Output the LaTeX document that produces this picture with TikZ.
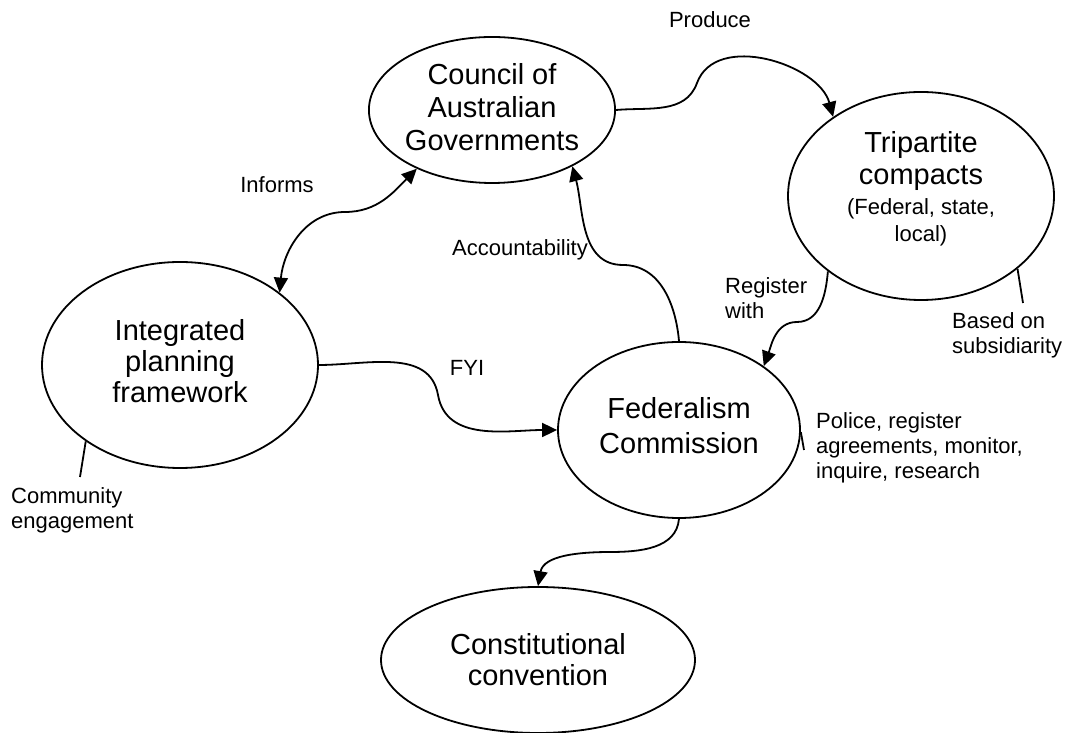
\documentclass[tikz,border=0pt]{standalone}
\usepackage{fontspec}
\setmainfont{Liberation Sans}
\usepackage{tikz}
\usetikzlibrary{shapes.geometric,arrows.meta}
\newcommand\bigfont{\fontsize{29}{32}\selectfont}
\newcommand\smallfont{\fontsize{22}{25}\selectfont}
\tikzstyle{bubble}=[ellipse,draw=black,fill=white,line width=1.8pt,
                    font=\bigfont,align=center,inner sep=0pt]
\tikzstyle{conn}=[line width=1.8pt,-{Triangle[length=15pt,width=14pt]}]
\tikzstyle{stub}=[line width=1.8pt]
\tikzstyle{note}=[font=\smallfont,align=left,inner sep=2pt]
\tikzstyle{tag}=[font=\smallfont,align=center,inner sep=0pt]

\begin{document}
\begin{tikzpicture}[x=1pt,y=1pt]
    \useasboundingbox (0,0) rectangle (1068,733);
    % the five bubbles
    \node [bubble,minimum width=220pt,minimum height=146pt,text depth=5pt] (coag) at (492,623)
        {Council of\\[1pt]Australian\\[1pt]Governments};
    \node [bubble,minimum width=266pt,minimum height=208pt,text depth=18pt] (tri) at (921,537)
        {Tripartite\\compacts\\[-2pt]\smallfont (Federal, state,\\[-5pt]\smallfont local)};
    \node [bubble,minimum width=276pt,minimum height=206pt,text depth=9pt] (ipf) at (180,368)
        {Integrated\\[-1pt]planning\\[-1pt]framework};
    \node [bubble,minimum width=242pt,minimum height=176pt,text depth=10pt] (fed) at (679,303)
        {Federalism\\[3pt]Commission};
    \node [bubble,minimum width=314pt,minimum height=146pt] (conv) at (538,73)
        {Constitutional\\[-1pt]convention};
    % side notes
    \node [note,anchor=west] (subs) at (950,398) {Based on\\subsidiarity};
    \node [note,anchor=west] (police) at (814,285) {Police, register\\agreements, monitor,\\inquire, research};
    \node [note,anchor=west] (comm) at (9,223) {Community\\engagement};
    \coordinate (subsfoot) at (1023,430);
    \coordinate (policefoot) at (804,283);
    \coordinate (commfoot) at (80,256);
    \draw [stub] (tri.323) -- (subsfoot);
    \draw [stub] (fed.-1) -- (policefoot);
    \draw [stub] (ipf.219) -- (commfoot);
    % connectors
    \draw [conn] (coag.east) to[out=5,in=-110] (697,650) to[out=70,in=105] (tri.138);
    \draw [conn,{Triangle[length=15pt,width=14pt]}-{Triangle[length=15pt,width=14pt]}]
        (ipf.36) to[out=85,in=180] (345,521) to[out=0,in=225] (coag.218);
    \draw [conn] (fed.north) to[out=95,in=0] (623,468) to[out=180,in=-75] (coag.325);
    \draw [conn] (ipf.east) to[out=0,in=100] (438,338) to[out=-80,in=180] (fed.west);
    \draw [conn] (tri.219) to[out=-95,in=0] (797,411) to[out=180,in=70] (fed.37);
    \draw [conn] (fed.south) to[out=-95,in=0] (610,181) to[out=180,in=80] (conv.north);
    % connector labels
    \node [tag] (produce) at (710,713) {Produce};
    \node [tag] (informs) at (277,548) {Informs};
    \node [tag] (account) at (520,483) {Accountability};
    \node [tag] (fyi) at (467,365) {FYI};
    \node [tag,align=left,anchor=west] (regwith) at (725,435) {Register\\with};
\end{tikzpicture}
\end{document}
